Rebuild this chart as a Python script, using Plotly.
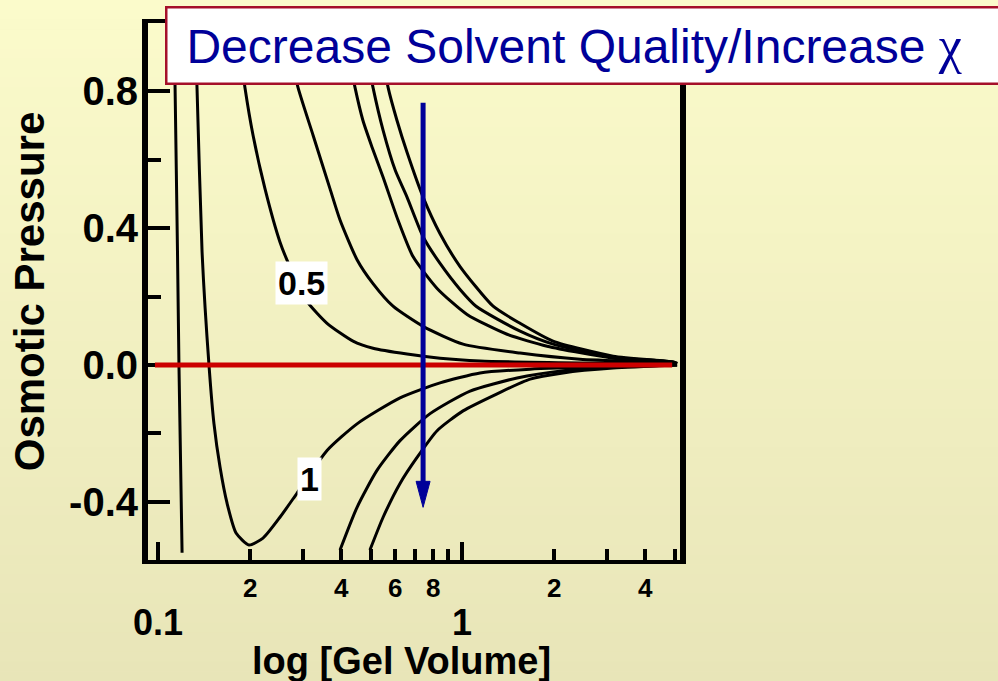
import numpy as np
import plotly.graph_objects as go

# ---------------- data ----------------
# gel volume (x) and osmotic pressure (y) for each curve, good -> poor solvent
curve_a_x = [0.113, 0.1138, 0.1159, 0.1172, 0.1200]
curve_a_y = [1.0, 0.811, 0.331, -0.003, -0.549]

curve_b_x = [0.132, 0.1343, 0.1396, 0.1472, 0.1528, 0.160, 0.1687, 0.1806, 0.1992, 0.2215,
             0.2518, 0.2864, 0.3597, 0.4515, 0.6252, 0.8466, 1.146, 1.674, 3.852, 5.096]
curve_b_y = [1.0, 0.817, 0.331, -0.003, -0.172, -0.299, -0.404, -0.491, -0.526, -0.506,
             -0.445, -0.375, -0.250, -0.172, -0.096, -0.052, -0.023, -0.012, -0.003, 0.0]

curve_c_x = [0.181, 0.1932, 0.2054, 0.2249, 0.2518, 0.2760, 0.3090, 0.3597, 0.438, 0.5096,
             0.6592, 0.8466, 1.146, 2.443, 4.944, 5.096]
curve_c_y = [1.0, 0.811, 0.672, 0.515, 0.360, 0.273, 0.186, 0.122, 0.070, 0.049,
             0.032, 0.020, 0.012, 0.006, 0.003, 0.002]

curve_d_x = [0.258, 0.2888, 0.3236, 0.368, 0.3969, 0.4515, 0.5096, 0.5929, 0.7445, 1.0076,
             1.552, 2.443, 4.944, 5.096]
curve_d_y = [1.0, 0.811, 0.672, 0.515, 0.424, 0.308, 0.238, 0.172, 0.113, 0.061,
             0.035, 0.017, 0.006, 0.004]

curve_e_x = [0.405, 0.4447, 0.4721, 0.5058, 0.550, 0.6155, 0.6898, 0.8279, 1.0386, 1.406,
             1.905, 3.139, 4.944, 5.096]
curve_e_y = [1.0, 0.811, 0.715, 0.637, 0.549, 0.424, 0.317, 0.224, 0.148, 0.090,
             0.055, 0.020, 0.006, 0.004]

curve_f_x = [0.465, 0.5096, 0.550, 0.6025, 0.6592, 0.7445, 0.8466, 0.985, 1.112, 1.552,
             1.992, 3.139, 4.944, 5.096]
curve_f_y = [1.0, 0.811, 0.686, 0.570, 0.491, 0.375, 0.297, 0.221, 0.172, 0.099,
             0.061, 0.023, 0.009, 0.005]

curve_g_x = [0.525, 0.5713, 0.611, 0.6592, 0.7445, 0.8466, 0.985, 1.265, 1.552, 1.992,
             3.139, 4.944, 5.096]
curve_g_y = [1.0, 0.811, 0.715, 0.622, 0.491, 0.384, 0.288, 0.172, 0.122, 0.070,
             0.026, 0.009, 0.005]

curve_h_x = [0.3969, 0.4515, 0.525, 0.6252, 0.785, 1.0625, 1.517, 2.148, 3.139, 5.096]
curve_h_y = [-0.541, -0.416, -0.308, -0.221, -0.142, -0.076, -0.038, -0.017, -0.006, 0.0]

curve_i_x = [0.4977, 0.550, 0.6252, 0.7112, 0.8279, 1.0076, 1.304, 1.674, 2.148, 3.139, 5.096]
curve_i_y = [-0.541, -0.445, -0.346, -0.270, -0.192, -0.134, -0.084, -0.041, -0.023, -0.009, 0.0]

curves = [
    (curve_a_x, curve_a_y), (curve_b_x, curve_b_y), (curve_c_x, curve_c_y),
    (curve_d_x, curve_d_y), (curve_e_x, curve_e_y), (curve_f_x, curve_f_y),
    (curve_g_x, curve_g_y), (curve_h_x, curve_h_y), (curve_i_x, curve_i_y),
]

zero_line_x = [0.0977, 4.91]
zero_line_y = [0.0, 0.0]

# curve labels (chi values)
label_text = ["0.5", "1"]
label_x = [0.2965, 0.314]
label_y = [0.241, -0.334]

# direction arrow
arrow_x = 0.7445
arrow_top = 0.767
arrow_tip = -0.416

# axes
x_range_vals = [0.0927, 5.21]
y_range = [-0.57, 1.0]
x_major_vals = [0.1, 1]
x_major_text = ["0.1", "1"]
x_minor_vals = [0.2, 0.3, 0.4, 0.5, 0.6, 0.7, 0.8, 0.9, 2, 3, 4, 5]
x_minor_label_vals = [0.2, 0.4, 0.6, 0.8, 2, 4]
x_minor_label_text = ["2", "4", "6", "8", "2", "4"]
y_major_vals = [-0.4, 0.0, 0.4, 0.8]
y_major_text = ["-0.4", "0.0", "0.4", "0.8"]
y_minor_vals = [-0.2, 0.2, 0.6, 1.0]

FONT = "Liberation Sans, Arial, sans-serif"
W, H = 998, 681
ML, MR, MT, MB = 148, 318, 23, 121
PW, PH = W - ML - MR, H - MT - MB

fig = go.Figure()

for cx, cy in curves:
    fig.add_trace(go.Scatter(x=cx, y=cy, mode="lines",
                             line=dict(color="black", width=3, shape="spline", smoothing=0.6),
                             hoverinfo="skip", showlegend=False))

fig.add_trace(go.Scatter(x=zero_line_x, y=zero_line_y, mode="lines",
                         line=dict(color="#CC0000", width=5),
                         hoverinfo="skip", showlegend=False))

fig.add_trace(go.Scatter(x=[arrow_x, arrow_x], y=[arrow_top, arrow_tip + 0.06], mode="lines",
                         line=dict(color="#000099", width=5),
                         hoverinfo="skip", showlegend=False))

shapes = []
# gradient background built from horizontal bands
N = 70
top_rgb = np.array([251, 251, 203])
bot_rgb = np.array([232, 229, 184])
for i in range(N):
    p0 = i * H / N
    p1 = (i + 1) * H / N + 0.6
    t = (i + 0.5) / N
    c = top_rgb + (bot_rgb - top_rgb) * t
    shapes.append(dict(type="rect", xref="paper", yref="paper",
                       x0=-ML / PW - 0.02, x1=(W - ML) / PW + 0.02,
                       y0=(H - MB - p1) / PH, y1=(H - MB - p0) / PH,
                       fillcolor="rgb(%d,%d,%d)" % tuple(np.round(c)),
                       line=dict(width=0), layer="below"))

# arrow head
shapes.append(dict(type="path", xref="x", yref="y", xsizemode="pixel", ysizemode="pixel",
                   xanchor=arrow_x, yanchor=arrow_tip,
                   path="M-7,26 L7,26 L0,0 Z", fillcolor="#000099",
                   line=dict(color="#000099", width=1), layer="above"))

annotations = []
for t, lx, ly in zip(label_text, label_x, label_y):
    annotations.append(dict(x=np.log10(lx), y=ly, xref="x", yref="y", text=t, showarrow=False,
                            font=dict(family=FONT, size=34, color="black", weight="bold"),
                            bgcolor="white", borderpad=2))

for v, t in zip(x_minor_label_vals, x_minor_label_text):
    annotations.append(dict(x=np.log10(v), y=0, xref="x", yref="paper", text=t, showarrow=False,
                            yanchor="middle", yshift=-28,
                            font=dict(family=FONT, size=26, color="black", weight="bold")))

# x-axis title
annotations.append(dict(x=(401 - ML) / PW, y=0, xref="paper", yref="paper",
                        text="log [Gel Volume]", showarrow=False,
                        yanchor="middle", yshift=-(661 - (H - MB)),
                        font=dict(family=FONT, size=38, color="black", weight="bold")))

annotations.append(dict(
    x=(165 - ML) / PW, y=(H - MB - 6) / PH, xref="paper", yref="paper",
    xanchor="left", yanchor="top", showarrow=False,
    text="Decrease Solvent Quality/Increase <span style=\"font-family:'Liberation Serif',serif;font-size:52px\">χ</span>&nbsp;&nbsp;",
    font=dict(family=FONT, size=48, color="#000099"),
    bgcolor="white", bordercolor="#A5102A", borderwidth=2.5, borderpad=0,
    width=840, height=74, align="center", valign="middle"))

fig.update_layout(
    width=W, height=H,
    margin=dict(l=ML, r=MR, t=MT, b=MB, pad=0, autoexpand=False),
    paper_bgcolor="rgb(242,240,194)",
    plot_bgcolor="rgba(0,0,0,0)",
    shapes=shapes,
    annotations=annotations,
    showlegend=False,
    xaxis=dict(
        type="log", range=[np.log10(x_range_vals[0]), np.log10(x_range_vals[1])],
        automargin=False, layer="below traces",
        showgrid=False, zeroline=False,
        showline=True, linecolor="black", linewidth=4, mirror=True,
        tickvals=x_major_vals, ticktext=x_major_text,
        ticks="inside", ticklen=18, tickwidth=4, tickcolor="black",
        ticklabelstandoff=28,
        tickfont=dict(family=FONT, size=36, color="black", weight="bold"),
        minor=dict(tickvals=x_minor_vals, ticks="inside", ticklen=11, tickwidth=4, tickcolor="black"),
    ),
    yaxis=dict(
        range=y_range, automargin=False, layer="below traces",
        showgrid=False, zeroline=False,
        showline=True, linecolor="black", linewidth=6, mirror=True,
        tickvals=y_major_vals, ticktext=y_major_text,
        ticks="inside", ticklen=22, tickwidth=4, tickcolor="black",
        ticklabelstandoff=-4,
        tickfont=dict(family=FONT, size=40, color="black", weight="bold"),
        minor=dict(tickvals=y_minor_vals, ticks="inside", ticklen=13, tickwidth=4, tickcolor="black"),
        title=dict(text="Osmotic Pressure", standoff=13,
                   font=dict(family=FONT, size=42, color="black", weight="bold")),
    ),
)

fig.write_html("out.html", config={"displayModeBar": False},
               post_script="document.body.style.margin='0';document.body.style.overflow='hidden';")
